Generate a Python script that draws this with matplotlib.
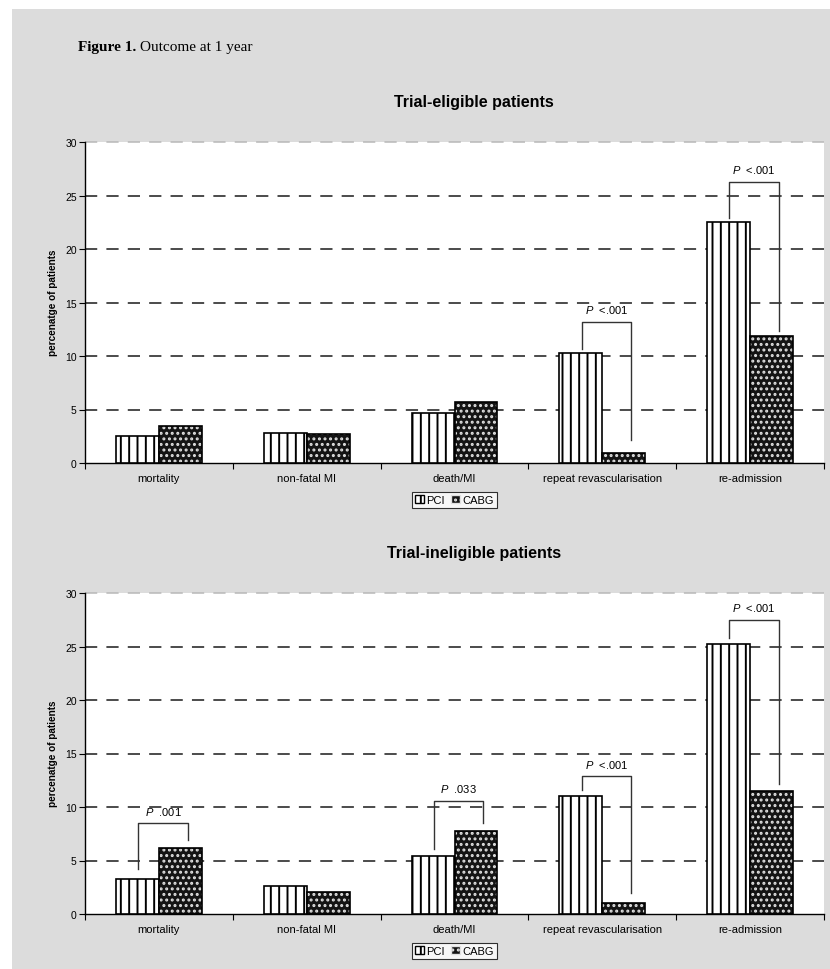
import matplotlib
matplotlib.use("Agg")
import matplotlib.pyplot as plt
from matplotlib.patches import Rectangle, Patch
import numpy as np

plt.rcParams['font.family'] = ['Liberation Sans', 'DejaVu Sans']
plt.rcParams['mathtext.fontset'] = 'custom'
plt.rcParams['mathtext.it'] = 'Liberation Sans:italic'
plt.rcParams['mathtext.rm'] = 'Liberation Sans'
plt.rcParams['hatch.linewidth'] = 1.4

categories = ['mortality', 'non-fatal MI', 'death/MI',
              'repeat revascularisation', 're-admission']
series = ['PCI', 'CABG']

eligible_pci = [2.5, 2.85, 4.65, 10.3, 22.5]
eligible_cabg = [3.5, 2.75, 5.7, 0.9, 11.9]
ineligible_pci = [3.3, 2.6, 5.4, 11.0, 25.2]
ineligible_cabg = [6.2, 2.1, 7.75, 1.0, 11.5]

# significance brackets: (category index, p label, left foot, right foot, top)
eligible_p = [(3, '<.001', 10.65, 2.15, 13.2),
              (4, '<.001', 22.9, 12.3, 26.3)]
ineligible_p = [(0, '.001', 4.2, 6.95, 8.5),
                (2, '.033', 6.1, 8.5, 10.6),
                (3, '<.001', 11.6, 2.0, 12.9),
                (4, '<.001', 25.8, 12.15, 27.5)]

yticks = [0, 5, 10, 15, 20, 25, 30]

W, H = 830, 970
fig = plt.figure(figsize=(W / 100, H / 100), dpi=100)
fig.patch.set_facecolor('white')
fig.add_artist(Rectangle((12 / W, 0), 1 - 12 / W, 1 - 10 / H,
                         transform=fig.transFigure, facecolor='#dcdcdc',
                         edgecolor='none', zorder=-10))

# heading: bold "Figure 1." followed by plain caption
head = fig.text(78 / W, 1 - 47 / H, 'Figure 1.', family='Liberation Serif',
                weight='bold', fontsize=11, va='center', ha='left')
renderer = fig.canvas.get_renderer()
ext = head.get_window_extent(renderer=renderer)
fig.text((ext.x1 + 4) / W, 1 - 47 / H, 'Outcome at 1 year',
         family='Liberation Serif', fontsize=11, va='center', ha='left')

bw = 0.29
x = np.arange(len(categories)) + 0.5
cabg_face = '#141414'
cabg_dots = '#e0e0e0'


def draw_panel(top_px, title, pci, cabg, brackets):
    ax = fig.add_axes([85 / W, 1 - (top_px + 321) / H, 739 / W, 321 / H])
    ax.set_facecolor('white')
    ax.set_xlim(0, len(categories))
    ax.set_ylim(0, 30)

    for v in yticks[1:-1]:
        ax.axhline(v, color='#1a1a1a', lw=1.1, dashes=(8, 6), zorder=1)
    ax.axhline(30, color='#b8b8b8', lw=1.1, dashes=(8, 6), zorder=1,
               clip_on=False)

    ax.bar(x - bw / 2, pci, bw, facecolor='white', edgecolor='black',
           hatch='||', lw=1.2, zorder=3)
    ax.bar(x + bw / 2, cabg, bw, facecolor=cabg_face, edgecolor=cabg_dots,
           hatch='...', lw=0, zorder=3)
    ax.bar(x + bw / 2, cabg, bw, fill=False, edgecolor='black', lw=1.2,
           zorder=4)

    for i, lab, lft, rgt, top in brackets:
        xl = x[i] - 0.14
        xr = x[i] + 0.195
        ax.plot([xl, xl, xr, xr], [lft, top, top, rgt], color='#333333',
                lw=1.0, zorder=5)
        ax.text((xl + xr) / 2, top + 0.6, r'$P$  ' + lab, ha='center',
                va='bottom', fontsize=8, zorder=5)

    for s in ['top', 'right']:
        ax.spines[s].set_visible(False)
    for s in ['left', 'bottom']:
        ax.spines[s].set_linewidth(1.0)

    ax.set_yticks(yticks)
    ax.set_yticklabels([str(t) for t in yticks], fontsize=7.5)
    ax.tick_params(axis='y', direction='out', length=4, width=0.8, pad=2)
    ax.set_xticks(np.arange(len(categories) + 1))
    ax.set_xticklabels([])
    ax.set_xticks(x, minor=True)
    ax.set_xticklabels(categories, minor=True, fontsize=8)
    ax.tick_params(axis='x', which='major', direction='out', length=4,
                   width=0.8)
    ax.tick_params(axis='x', which='minor', length=0, pad=7)

    fig.text(474 / W, 1 - (top_px - 40) / H, title, ha='center',
             va='center', fontsize=11.5, weight='bold')
    fig.text(53 / W, 1 - (top_px + 160) / H, 'percenatge of patients',
             rotation=90, ha='center', va='center', fontsize=7.2,
             weight='bold')

    handles = [Patch(facecolor='white', edgecolor='black', hatch='||'),
               Patch(facecolor=cabg_face, edgecolor=cabg_dots, hatch='...')]
    leg = ax.legend(handles, series, loc='center', ncol=2,
                    bbox_to_anchor=(0.5, -37 / 321), fontsize=8,
                    frameon=True, fancybox=False, edgecolor='black',
                    handlelength=0.8, handleheight=0.8, handletextpad=0.2,
                    columnspacing=0.6, borderpad=0.25, borderaxespad=0)
    leg.get_frame().set_linewidth(0.8)
    return ax


draw_panel(143, 'Trial-eligible patients', eligible_pci, eligible_cabg,
           eligible_p)
draw_panel(594, 'Trial-ineligible patients', ineligible_pci, ineligible_cabg,
           ineligible_p)

fig.savefig('out.png', dpi=100, facecolor=fig.get_facecolor())
